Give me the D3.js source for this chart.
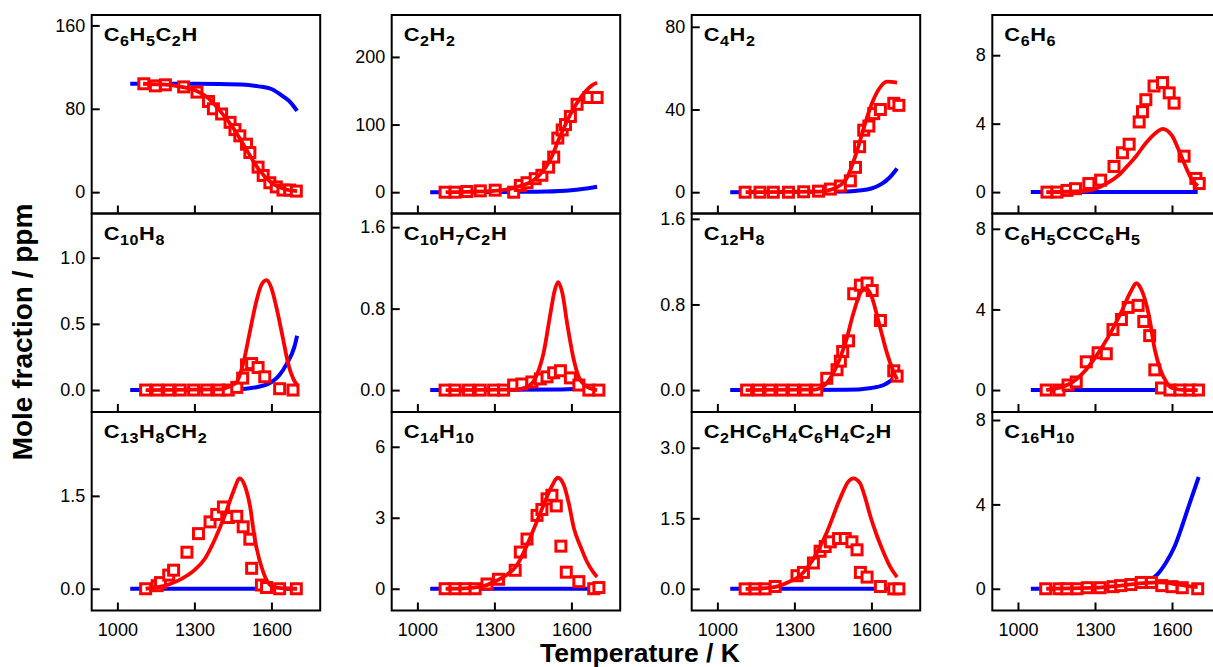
<!DOCTYPE html>
<html><head><meta charset="utf-8">
<script src="https://cdn.jsdelivr.net/npm/d3@7"></script>
<style>
body{margin:0;background:#fff;}
svg{display:block;font-family:"Liberation Sans",Arial,sans-serif;}
</style></head><body>
<svg id="chart" width="1213" height="667"></svg>
<script>
// ---------------- DATA ----------------
const titles = ["C6H5C2H","C2H2","C4H2","C6H6","C10H8","C10H7C2H","C12H8","C6H5CCC6H5","C13H8CH2","C14H10","C2HC6H4C6H4C2H","C16H10"];
const xTicks = [1000,1300,1600];
const yTicks = [[0,80,160],[0,100,200],[0,40,80],[0,4,8],[0,0.5,1.0],[0,0.8,1.6],[0,0.8,1.6],[0,4,8],[0,1.5],[0,3,6],[0,1.5,3.0],[0,4,8]];
const yTickDecimals = [0,0,0,0,1,1,1,0,1,0,1,0];
const yDomains = [[-20.5,170],[-31.5,262],[-10.3,85.7],[-1.25,10.35],[-0.166,1.334],[-0.215,1.734],[-0.205,1.65],[-1.09,8.76],[-0.351,2.854],[-0.92,7.47],[-0.46,3.76],[-1.03,8.38]];

// experimental points [T, ppm]
const exp1 = [[1103,104],[1148,102],[1187,103],[1258,101],[1310,96],[1355,87],[1374,80],[1406,75],[1439,67],[1458,60],[1477,54],[1503,46],[1516,38],[1548,24],[1568,16],[1594,9],[1619,5],[1645,2],[1671,2],[1697,1]];
const exp2 = [[1108,0],[1147,0],[1193,1],[1245,2],[1303,3],[1375,0],[1401,10],[1427,14],[1459,20],[1485,25],[1511,37],[1531,52],[1547,80],[1564,92],[1577,100],[1596,112],[1622,130],[1668,140],[1700,140]];
const exp3 = [[1108,0],[1166,0],[1218,0],[1277,0],[1336,0.2],[1394,0.5],[1440,1.5],[1479,3],[1518,5.5],[1538,12],[1554,22],[1570,30],[1590,32],[1609,38],[1635,40],[1687,43],[1707,42]];
const exp4 = [[1113,0],[1152,0],[1191,0.1],[1224,0.2],[1276,0.5],[1322,0.7],[1374,1.5],[1407,2.3],[1433,2.8],[1472,4.1],[1485,4.7],[1498,5.4],[1530,6.2],[1563,6.4],[1589,5.8],[1608,5.2],[1647,2.1],[1693,0.8],[1706,0.5]];
const exp5 = [[1110,0],[1155,0],[1200,0],[1245,0],[1297,0],[1348,0],[1394,0],[1432,0],[1465,0.02],[1488,0.09],[1503,0.19],[1523,0.2],[1548,0.17],[1574,0.1],[1632,0.01],[1684,0]];
const exp6 = [[1108,0],[1147,0],[1199,0],[1245,0],[1297,0],[1336,0],[1375,0.05],[1407,0.06],[1446,0.08],[1479,0.11],[1505,0.13],[1531,0.17],[1557,0.19],[1596,0.12],[1629,0.05],[1668,0],[1707,0]];
const exp7 = [[1114,0],[1160,0],[1205,0],[1251,0],[1296,0],[1342,0],[1387,0],[1426,0.11],[1466,0.19],[1479,0.27],[1488,0.36],[1511,0.46],[1531,0.9],[1557,0.98],[1583,1.0],[1603,0.93],[1635,0.65],[1687,0.18],[1700,0.13]];
const exp8 = [[1110,0],[1160,0],[1195,0.25],[1227,0.4],[1266,1.4],[1312,1.85],[1344,1.8],[1370,3.0],[1403,3.5],[1429,4.1],[1468,4.2],[1490,3.4],[1513,2.7],[1533,1.0],[1559,0.1],[1592,0],[1631,0],[1670,0],[1703,0]];
const exp9 = [[1110,0],[1155,0.05],[1168,0.1],[1200,0.22],[1219,0.3],[1271,0.59],[1316,0.89],[1361,1.08],[1387,1.2],[1413,1.32],[1432,1.15],[1465,1.17],[1490,1.0],[1516,0.8],[1523,0.33],[1561,0.06],[1581,0.02],[1632,0],[1697,0]];
const exp10 = [[1108,0],[1147,0],[1186,0],[1225,0],[1271,0.2],[1316,0.4],[1381,0.78],[1401,1.55],[1427,2.1],[1466,3.1],[1485,3.35],[1505,3.8],[1524,3.95],[1541,3.5],[1559,1.8],[1580,0.7],[1629,0.3],[1687,0],[1707,0.05]];
const exp11 = [[1108,0],[1147,0],[1186,0],[1225,0.05],[1310,0.28],[1335,0.35],[1374,0.55],[1400,0.8],[1420,0.9],[1440,1.0],[1472,1.07],[1498,1.07],[1524,1.0],[1544,0.83],[1557,0.35],[1583,0.25],[1635,0.05],[1687,0],[1707,0]];
const exp12 = [[1108,0],[1160,0],[1190,0],[1230,0],[1270,0.05],[1320,0.05],[1370,0.1],[1400,0.15],[1440,0.2],[1480,0.3],[1520,0.3],[1560,0.15],[1600,0.1],[1640,0.05],[1700,0]];

// model A (red) [T, ppm]
const red1 = [[1100,104],[1150,103.5],[1200,103],[1250,101],[1300,98],[1350,91],[1400,78],[1450,62],[1500,42],[1550,22],[1600,9],[1650,3],[1700,1]];
const red2 = [[1110,0],[1300,2],[1400,9],[1450,17],[1479,27],[1500,37],[1530,58],[1544,72],[1560,86],[1600,118],[1640,142],[1680,158],[1700,162]];
const red3 = [[1110,0],[1400,0.3],[1450,1.5],[1500,6],[1544,20],[1570,31],[1596,41],[1630,50],[1660,53.5],[1700,53]];
const red4 = [[1110,0],[1250,0.05],[1280,0.1],[1344,0.5],[1400,1.1],[1422,1.46],[1460,2.1],[1500,2.9],[1540,3.5],[1563,3.7],[1600,3.3],[1625,2.5],[1647,1.7],[1675,0.8],[1700,0.35]];
const red5 = [[1110,0],[1400,0.005],[1440,0.03],[1465,0.06],[1490,0.2],[1516,0.44],[1540,0.66],[1560,0.79],[1581,0.83],[1600,0.77],[1620,0.62],[1645,0.39],[1665,0.2],[1684,0.09],[1703,0.03]];
const red6 = [[1110,0],[1380,0.005],[1427,0.03],[1460,0.12],[1492,0.37],[1518,0.75],[1535,0.98],[1548,1.06],[1565,0.95],[1583,0.66],[1609,0.3],[1630,0.12],[1648,0.06],[1670,0.02],[1700,0]];
const red7 = [[1110,0],[1380,0.005],[1420,0.05],[1460,0.2],[1500,0.45],[1530,0.72],[1560,0.92],[1580,0.95],[1600,0.88],[1630,0.62],[1660,0.35],[1690,0.15],[1700,0.1]];
const red8 = [[1110,0],[1200,0.3],[1250,0.8],[1300,1.6],[1350,2.6],[1400,3.8],[1440,4.9],[1461,5.3],[1480,5.0],[1510,3.7],[1533,2.0],[1555,1.0],[1578,0.4],[1600,0.1],[1650,0],[1700,0]];
const red9 = [[1110,0],[1200,0.07],[1250,0.16],[1300,0.3],[1340,0.48],[1380,0.8],[1420,1.2],[1450,1.55],[1477,1.78],[1500,1.62],[1516,1.35],[1535,0.81],[1568,0.27],[1606,0.03],[1650,0.005],[1700,0]];
const red10 = [[1110,0],[1200,0.03],[1260,0.12],[1310,0.35],[1350,0.6],[1388,1.0],[1427,1.84],[1460,2.7],[1490,3.5],[1520,4.25],[1547,4.69],[1570,4.4],[1590,3.6],[1610,2.54],[1635,1.8],[1661,1.13],[1685,0.7],[1700,0.5]];
const red11 = [[1110,0],[1200,0.02],[1244,0.07],[1280,0.15],[1322,0.28],[1374,0.64],[1426,1.2],[1478,1.92],[1510,2.28],[1530,2.35],[1555,2.25],[1575,1.95],[1595,1.56],[1620,1.15],[1647,0.78],[1675,0.45],[1700,0.25]];
const red12 = [[1110,0],[1300,0.05],[1400,0.15],[1500,0.28],[1550,0.3],[1600,0.25],[1650,0.15],[1700,0.08]];

// model B (blue) [T, ppm]
const blue1 = [[1050,104],[1200,104],[1300,104],[1400,103.8],[1500,103],[1550,101.5],[1600,99],[1645,92],[1675,86],[1700,78]];
const blue2 = [[1050,0],[1400,0.5],[1500,1],[1600,3],[1650,5],[1700,8]];
const blue3 = [[1050,0],[1500,0.3],[1550,0.8],[1600,1.8],[1640,4],[1670,7],[1700,11.5]];
const blue4 = [[1050,0],[1700,0]];
const blue5 = [[1050,0],[1400,0.002],[1500,0.01],[1550,0.025],[1600,0.06],[1630,0.11],[1660,0.2],[1690,0.33],[1700,0.41]];
const blue6 = [[1050,0],[1550,0.005],[1620,0.01],[1700,0]];
const blue7 = [[1050,0],[1500,0.002],[1600,0.02],[1650,0.05],[1700,0.13]];
const blue8 = [[1050,0],[1700,0]];
const blue9 = [[1050,0],[1700,0]];
const blue10 = [[1050,0],[1700,0]];
const blue11 = [[1050,0],[1700,0]];
const blue12 = [[1050,0],[1300,0],[1400,0.03],[1450,0.1],[1500,0.32],[1539,0.63],[1578,1.27],[1610,2.0],[1640,3.0],[1670,4.1],[1704,5.3]];

const expSets = [exp1,exp2,exp3,exp4,exp5,exp6,exp7,exp8,exp9,exp10,exp11,exp12];
const redSets = [red1,red2,red3,red4,red5,red6,red7,red8,red9,red10,red11,red12];
const blueSets = [blue1,blue2,blue3,blue4,blue5,blue6,blue7,blue8,blue9,blue10,blue11,blue12];

// ---------------- LAYOUT ----------------
const colLeft = [91.7, 391.7, 691.7, 992.3];
const rowTop = [15, 213.5, 412];
const pw = 228.5, ph = 198.5;
const xDomain = [900, 1790];

const svg = d3.select("#chart");
const red = "#ff0000", blue = "#0000ff";
const fontFam = '"Liberation Sans",Arial,sans-serif';

titles.forEach((title, i) => {
  const r = Math.floor(i/4), c = i % 4;
  const g = svg.append("g").attr("transform", `translate(${colLeft[c]},${rowTop[r]})`);
  const x = d3.scaleLinear().domain(xDomain).range([0, pw]);
  const y = d3.scaleLinear().domain(yDomains[i]).range([ph, 0]);

  const clipId = "clip"+i;
  g.append("clipPath").attr("id", clipId).append("rect").attr("width", pw).attr("height", ph);
  const plot = g.append("g").attr("clip-path", `url(#${clipId})`);

  const line = d3.line().x(d => x(d[0])).y(d => y(d[1])).curve(d3.curveMonotoneX);

  plot.append("path").datum(blueSets[i]).attr("d", line)
    .attr("fill","none").attr("stroke", blue).attr("stroke-width", 4);

  const s = 10;
  plot.selectAll("rect.pt").data(expSets[i]).join("rect").attr("class","pt")
    .attr("x", d => x(d[0]) - s/2).attr("y", d => y(d[1]) - s/2)
    .attr("width", s).attr("height", s)
    .attr("fill", "#fff").attr("stroke", red).attr("stroke-width", 3);

  plot.append("path").datum(redSets[i]).attr("d", line)
    .attr("fill","none").attr("stroke", red).attr("stroke-width", 3.8);

  // axes
  const fmt = d3.format("." + yTickDecimals[i] + "f");
  const ya = g.append("g").call(d3.axisLeft(y).tickValues(yTicks[i]).tickSize(-8).tickPadding(6.5).tickFormat(fmt));
  const xa = g.append("g").attr("transform", `translate(0,${ph})`)
    .call(d3.axisBottom(x).tickValues(xTicks).tickSize(-8).tickPadding(12.5).tickFormat(r === 2 ? d3.format("d") : () => ""));
  [ya, xa].forEach(a => {
    a.select(".domain").remove();
    a.selectAll(".tick line").attr("stroke","#000").attr("stroke-width", 2);
    a.selectAll(".tick text").attr("fill","#000").style("font-size","18px").style("font-family", fontFam);
  });

  g.append("rect").attr("width", pw).attr("height", ph)
    .attr("fill","none").attr("stroke","#000").attr("stroke-width", 2);

  // title with subscripts
  const tg = g.append("g").attr("transform", "translate(12,26) scale(1.15,1)");
  const t = tg.append("text").attr("x", 0).attr("y", 0)
    .style("font-weight","bold").style("font-size","19px").style("letter-spacing","0.5px").attr("fill","#000");
  const parts = title.match(/\d+|[^\d]+/g);
  let prevSub = false;
  parts.forEach(p => {
    const isSub = /^\d+$/.test(p);
    const ts = t.append("tspan").text(p);
    if (isSub) { ts.style("font-size","14px").attr("dy", 5); }
    else if (prevSub) { ts.attr("dy", -5); }
    prevSub = isSub;
  });
});

svg.append("text").attr("x", 640).attr("y", 661.5).attr("text-anchor","middle")
  .style("font-weight","bold").style("font-size","26.5px").text("Temperature / K");
svg.append("text").attr("transform","translate(32,332) rotate(-90)").attr("text-anchor","middle")
  .style("font-weight","bold").style("font-size","28px").text("Mole fraction / ppm");
</script>
</body></html>
